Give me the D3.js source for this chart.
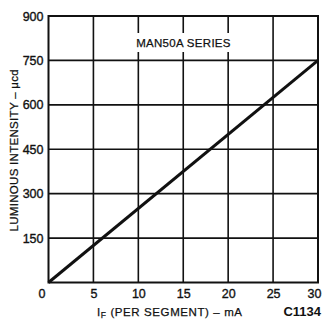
<!DOCTYPE html>
<html><head><meta charset="utf-8">
<script src="https://cdn.jsdelivr.net/npm/d3@7"></script>
<style>body{margin:0;background:#fff}svg{display:block}</style>
</head><body>
<svg id="c" width="323" height="320"></svg>
<script>
const xTicks = [0, 5, 10, 15, 20, 25, 30];
const yTicks = [0, 150, 300, 450, 600, 750, 900];
const currentMA = [0, 30];
const intensity = [0, 750];
const seriesLabel = "MAN50A SERIES";
const figureCode = "C1134";

const svg = d3.select("#c");
const L = 48.5, R = 318, T = 16, B = 282.5;
const x = d3.scaleLinear().domain([0, 30]).range([L, R]);
const y = d3.scaleLinear().domain([0, 900]).range([B, T]);
const font = "'Liberation Sans', Arial, sans-serif";
const ink = "#111";

// grid
svg.append("g").selectAll("line").data(xTicks.filter(d => d > 0 && d < 30)).join("line")
  .attr("x1", d => x(d)).attr("x2", d => x(d)).attr("y1", T).attr("y2", B)
  .attr("stroke", ink).attr("stroke-width", 1.6);
svg.append("g").selectAll("line").data(yTicks.filter(d => d > 0 && d < 900)).join("line")
  .attr("y1", d => y(d)).attr("y2", d => y(d)).attr("x1", L).attr("x2", R)
  .attr("stroke", ink).attr("stroke-width", 1.6);

// series label with white background
const lbl = svg.append("g");
lbl.append("rect").attr("x", 131).attr("y", 33).attr("width", 106).attr("height", 19).attr("fill", "#fff");
lbl.append("text").attr("x", 183.5).attr("y", 47).attr("text-anchor", "middle")
  .attr("font-family", font).attr("font-size", 11.5).attr("letter-spacing", 0.3)
  .attr("stroke", ink).attr("stroke-width", 0.25).attr("fill", ink).text(seriesLabel);

// frame
svg.append("rect").attr("x", L).attr("y", T).attr("width", R - L).attr("height", B - T)
  .attr("fill", "none").attr("stroke", ink).attr("stroke-width", 2);

// data line
const pts = currentMA.map((c, i) => [c, intensity[i]]);
svg.append("path").datum(pts)
  .attr("d", d3.line().x(d => x(d[0])).y(d => y(d[1])))
  .attr("fill", "none").attr("stroke", ink).attr("stroke-width", 3);

// axes labels
const xAxis = d3.axisBottom(x).tickValues(xTicks).tickSize(0).tickPadding(0);
const gx = svg.append("g").attr("transform", `translate(0,${B})`).call(xAxis);
gx.select(".domain").remove();
gx.selectAll("text").attr("font-family", font).attr("font-size", 12.5).attr("fill", ink)
  .attr("stroke", ink).attr("stroke-width", 0.35)
  .attr("dy", null).attr("y", 15.5)
  .attr("dx", d => d === 0 ? -7 : (d === 30 ? -4 : 0));

const yAxis = d3.axisLeft(y).tickValues(yTicks.filter(d => d > 0)).tickSize(0).tickPadding(5);
const gy = svg.append("g").attr("transform", `translate(${L},0)`).call(yAxis);
gy.select(".domain").remove();
gy.selectAll("text").attr("font-family", font).attr("font-size", 12.5).attr("fill", ink)
  .attr("stroke", ink).attr("stroke-width", 0.35);

// axis titles
const xt = svg.append("text").attr("x", 97).attr("y", 316).attr("font-family", font)
  .attr("font-size", 11.5).attr("letter-spacing", 0.6).attr("fill", ink)
  .attr("stroke", ink).attr("stroke-width", 0.25);
xt.append("tspan").text("I");
xt.append("tspan").attr("font-size", 8.5).attr("dy", 2).text("F");
xt.append("tspan").attr("dy", -2).text(" (PER SEGMENT)  –  mA");

svg.append("text").attr("x", 321).attr("y", 316).attr("text-anchor", "end")
  .attr("font-family", font).attr("font-size", 13).attr("font-weight", "bold").attr("fill", ink)
  .text(figureCode);

svg.append("text").attr("transform", `translate(18,${(T + B) / 2 + 1}) rotate(-90)`)
  .attr("text-anchor", "middle").attr("font-family", font).attr("font-size", 11.5)
  .attr("letter-spacing", 0.3).attr("stroke", ink).attr("stroke-width", 0.25).attr("fill", ink)
  .text("LUMINOUS INTENSITY – μcd");
</script>
</body></html>
